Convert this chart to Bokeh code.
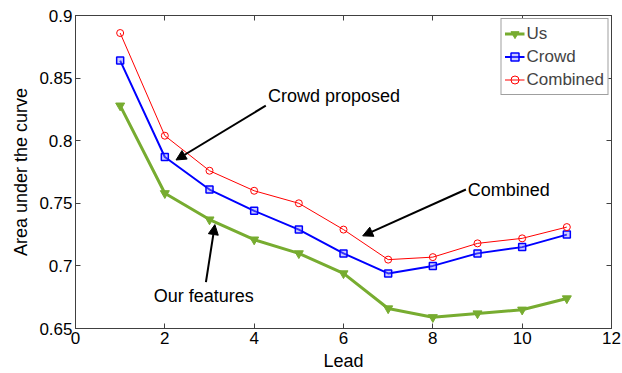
from bokeh.plotting import figure
from bokeh.models import (LinearAxis, FixedTicker, Arrow, NormalHead, Label,
                          Legend, LegendItem, CustomJSTickFormatter)
from bokeh.embed import file_html
from bokeh.resources import INLINE

# ---- data ----
lead = [1, 2, 3, 4, 5, 6, 7, 8, 9, 10, 11]
us = [0.828, 0.758, 0.737, 0.721, 0.710, 0.694, 0.666, 0.659, 0.662, 0.665, 0.674]
crowd = [0.864, 0.787, 0.761, 0.744, 0.729, 0.710, 0.694, 0.700, 0.710, 0.715, 0.725]
combined = [0.886, 0.804, 0.776, 0.760, 0.750, 0.729, 0.705, 0.707, 0.718, 0.722, 0.731]

x_ticks = [0, 2, 4, 6, 8, 10, 12]
y_ticks = [0.65, 0.7, 0.75, 0.8, 0.85, 0.9]
y_tick_labels = ["0.65", "0.7", "0.75", "0.8", "0.85", "0.9"]

# annotations
ann_text = ["Crowd proposed", "Combined", "Our features"]
ann_tx = [4.31, 8.78, 2.87]
ann_ty = [0.836, 0.761, 0.676]
ann_align = ["left", "left", "center"]
arr_x0 = [4.26, 8.74, 2.92]
arr_y0 = [0.828, 0.761, 0.687]
arr_x1 = [2.25, 6.43, 3.12]
arr_y1 = [0.7846, 0.724, 0.733]

FONT = "Liberation Sans"
AX = "#404040"
GREEN = "#77AC30"

p = figure(width=622, height=373, output_backend="svg", toolbar_location=None,
           x_range=(0, 12), y_range=(0.65, 0.9),
           min_border_left=75, min_border_right=11, min_border_top=15,
           min_border_bottom=44)
p.grid.visible = False
p.outline_line_color = AX
p.background_fill_color = "white"
p.border_fill_color = "white"

def style_axis(ax, ticks):
    ax.ticker = FixedTicker(ticks=ticks)
    ax.major_tick_in = 5
    ax.major_tick_out = 0
    ax.minor_tick_line_color = None
    ax.axis_line_color = AX
    ax.major_tick_line_color = AX
    ax.major_label_text_font = FONT
    ax.major_label_text_font_size = "17px"
    ax.major_label_text_color = "black"
    ax.axis_label_text_font = FONT
    ax.axis_label_text_font_size = "18px"
    ax.axis_label_text_font_style = "normal"
    ax.axis_label_text_color = "black"

style_axis(p.xaxis[0], x_ticks)
style_axis(p.yaxis[0], y_ticks)
p.xaxis[0].axis_label = "Lead"
p.yaxis[0].axis_label = "Area under the curve"
p.xaxis[0].major_label_standoff = 3
p.xaxis[0].axis_label_standoff = 4
p.yaxis[0].major_label_standoff = 3
p.yaxis[0].axis_label_standoff = 5
p.yaxis[0].major_label_overrides = {t: s for t, s in zip(y_ticks, y_tick_labels)}

top = LinearAxis()
right = LinearAxis()
style_axis(top, x_ticks)
style_axis(right, y_ticks)
for ax in (top, right):
    ax.formatter = CustomJSTickFormatter(code="return ''")
    ax.major_label_standoff = 0
p.add_layout(top, "above")
p.add_layout(right, "right")

# series
l1 = p.line(lead, us, line_color=GREEN, line_width=3)
s1 = p.scatter(lead, us, marker="inverted_triangle", size=9, fill_color=GREEN,
               line_color=GREEN)
l2 = p.line(lead, crowd, line_color="blue", line_width=2)
s2 = p.scatter(lead, crowd, marker="square", size=7, fill_color="#8080ff",
               fill_alpha=0.4, line_color="blue", line_width=1.5)
l3 = p.line(lead, combined, line_color="red", line_width=1)
s3 = p.scatter(lead, combined, marker="circle", size=7, fill_color=None,
               line_color="red", line_width=1)

legend = Legend(items=[LegendItem(label="Us", renderers=[l1, s1]),
                       LegendItem(label="Crowd", renderers=[l2, s2]),
                       LegendItem(label="Combined", renderers=[l3, s3])],
                location="top_right")
legend.label_text_font = FONT
legend.label_text_font_size = "17px"
legend.border_line_color = AX
legend.border_line_width = 1
legend.margin = 3
legend.padding = 3
legend.spacing = 0
legend.label_height = 23
legend.glyph_height = 23
legend.glyph_width = 20
legend.label_standoff = 2
legend.background_fill_alpha = 1
p.add_layout(legend)

for i in range(3):
    p.add_layout(Arrow(end=NormalHead(size=10, fill_color="black", line_color="black"),
                       x_start=arr_x0[i], y_start=arr_y0[i],
                       x_end=arr_x1[i], y_end=arr_y1[i],
                       line_color="black", line_width=2))
    p.add_layout(Label(x=ann_tx[i], y=ann_ty[i], text=ann_text[i],
                       text_font=FONT, text_font_size="18px",
                       text_align=ann_align[i], text_baseline="middle",
                       text_color="black"))

open("out.html", "w").write(file_html(p, INLINE))
